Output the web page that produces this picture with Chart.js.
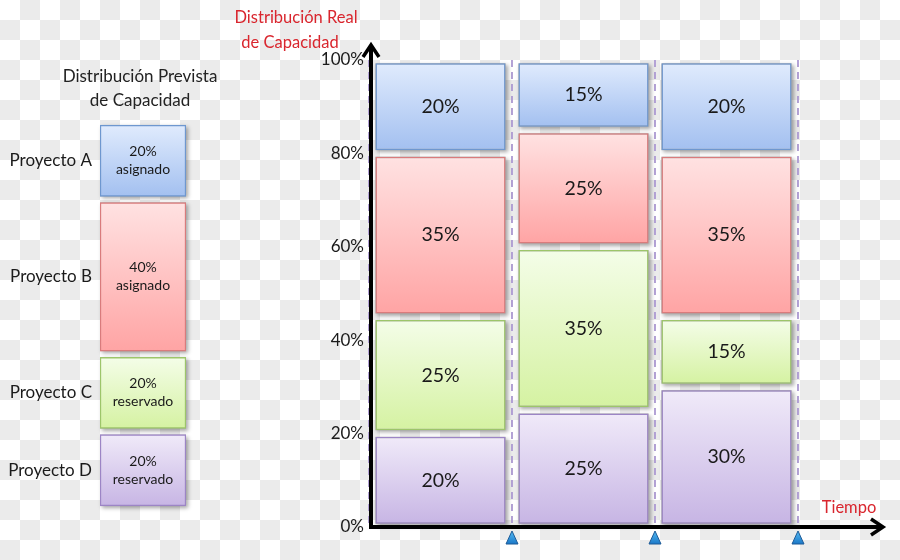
<!DOCTYPE html>
<html><head><meta charset="utf-8">
<script src="https://cdn.jsdelivr.net/npm/chart.js@4.4.1/dist/chart.umd.min.js"></script>
<style>
html,body{margin:0;padding:0;width:900px;height:560px;overflow:hidden;
background: repeating-conic-gradient(#ebebeb 0 25%, #ffffff 0 50%) 0 0/40px 40px;}
canvas{position:absolute;left:0;top:0;}
</style></head><body>
<canvas id="main" width="900" height="560"></canvas>
<canvas id="plan" width="240" height="560"></canvas>
<script>
// ---------- data ----------
const projects = ['Proyecto A', 'Proyecto B', 'Proyecto C', 'Proyecto D'];
const periods = ['Periodo 1', 'Periodo 2', 'Periodo 3'];
const realA = [20, 15, 20];
const realB = [35, 25, 35];
const realC = [25, 35, 15];
const realD = [20, 25, 30];
const plannedValues = [20, 40, 20, 20];            // A, B, C, D
const plannedNotes = ['asignado', 'asignado', 'reservado', 'reservado'];
const yTickValues = [0, 20, 40, 60, 80, 100];
const mainTitle = ['Distribución Real', 'de Capacidad'];
const planTitle = ['Distribución Prevista', 'de Capacidad'];
const xAxisTitle = 'Tiempo';

// ---------- styles ----------
const FONT = 'Lato';
const palette = {
  A: {top: '#e0ebfd', bottom: '#a3c0f0', border: '#6e97cf'},
  B: {top: '#ffe2e2', bottom: '#ffa4a4', border: '#d97b7c'},
  C: {top: '#f4fde8', bottom: '#d5f2a2', border: '#9dc56a'},
  D: {top: '#f0eaf9', bottom: '#c7b5e4', border: '#9c85c5'}
};

function ranges(seriesBottomToTop, g) {
  const n = seriesBottomToTop[0].length;
  const cum = new Array(n).fill(0);
  return seriesBottomToTop.map(s => s.map((v, i) => {
    const a = cum[i]; cum[i] += v; return [a + g, cum[i] - g];
  }));
}
function grad(c) {
  return (ctx) => {
    const chart = ctx.chart, y = chart.scales.y;
    if (!y || !Array.isArray(ctx.raw)) return c.bottom;
    const y1 = y.getPixelForValue(ctx.raw[1]), y0 = y.getPixelForValue(ctx.raw[0]);
    if (!isFinite(y1) || !isFinite(y0)) return c.bottom;
    const g = chart.ctx.createLinearGradient(0, y1, 0, y0);
    g.addColorStop(0, c.top); g.addColorStop(1, c.bottom);
    return g;
  };
}
function eachBar(chart, fn) {
  chart.data.datasets.forEach((ds, di) => {
    const meta = chart.getDatasetMeta(di);
    if (!meta.visible) return;
    meta.data.forEach((el, i) => {
      const p = el.getProps(['x', 'y', 'base', 'width'], true);
      fn(ds, i, p);
    });
  });
}
const shadowPlugin = {
  id: 'shadow',
  beforeDatasetsDraw(chart) {
    const ctx = chart.ctx;
    eachBar(chart, (ds, i, p) => {
      const top = Math.min(p.y, p.base), h = Math.abs(p.base - p.y);
      ctx.save();
      ctx.shadowColor = 'rgba(0,0,0,0.35)';
      ctx.shadowBlur = 4; ctx.shadowOffsetX = 2; ctx.shadowOffsetY = 2;
      ctx.fillStyle = '#aaaaaa';
      ctx.fillRect(p.x - p.width / 2, top, p.width, h);
      ctx.restore();
    });
  }
};

// ---------- main chart ----------
const G1 = 0.7;
const realRanges = ranges([realD, realC, realB, realA], G1);
const realVals = [realD, realC, realB, realA];
const keys = ['D', 'C', 'B', 'A'];
const mainDatasets = keys.map((k, j) => ({
  label: projects[3 - j],
  data: realRanges[j],
  values: realVals[j],
  backgroundColor: grad(palette[k]),
  borderColor: palette[k].border,
  borderWidth: 1.5,
  borderSkipped: false
}));

const mainDeco = {
  id: 'mainDeco',
  afterDatasetsDraw(chart) {
    const ctx = chart.ctx;
    ctx.save();
    ctx.fillStyle = '#1a1a1a';
    ctx.font = '19.5px ' + FONT;
    ctx.textAlign = 'center'; ctx.textBaseline = 'middle';
    eachBar(chart, (ds, i, p) => {
      ctx.fillText(ds.values[i] + '%', p.x, (p.y + p.base) / 2);
    });
    ctx.restore();
  },
  afterDraw(chart) {
    const ctx = chart.ctx, ca = chart.chartArea;
    const xs = chart.scales.x, ys = chart.scales.y;
    const ax = ca.left + 2, ay = ys.getPixelForValue(0);
    const xEnd = ca.right + 85;
    ctx.save();
    ctx.strokeStyle = '#000'; ctx.lineWidth = 4; ctx.lineCap = 'butt';
    ctx.beginPath(); ctx.moveTo(ax, ay + 2); ctx.lineTo(ax, 46); ctx.stroke();
    ctx.beginPath(); ctx.moveTo(ax - 2, ay); ctx.lineTo(xEnd - 2, ay); ctx.stroke();
    ctx.lineWidth = 3.5; ctx.lineJoin = 'miter';
    ctx.beginPath(); ctx.moveTo(ax - 8, 57); ctx.lineTo(ax, 45); ctx.lineTo(ax + 8, 57); ctx.stroke();
    ctx.beginPath(); ctx.moveTo(xEnd - 12, ay - 8); ctx.lineTo(xEnd, ay); ctx.lineTo(xEnd - 12, ay + 8); ctx.stroke();
    const w = (ca.right - ca.left) / periods.length;
    periods.forEach((p, i) => {
      const bx = xs.getPixelForValue(i) + w / 2;
      const g = ctx.createLinearGradient(0, ay + 5, 0, ay + 17);
      g.addColorStop(0, '#4fb6f0'); g.addColorStop(1, '#1b78c8');
      ctx.beginPath();
      ctx.moveTo(bx, ay + 4); ctx.lineTo(bx + 6, ay + 17); ctx.lineTo(bx - 6, ay + 17); ctx.closePath();
      ctx.fillStyle = g; ctx.fill();
      ctx.lineWidth = 1; ctx.strokeStyle = '#1d5a96'; ctx.stroke();
    });
    ctx.fillStyle = '#d9262e';
    ctx.font = '16.5px ' + FONT;
    ctx.textAlign = 'center'; ctx.textBaseline = 'middle';
    ctx.fillText(mainTitle[0], 296, 18);
    ctx.fillText(mainTitle[1], 290, 43);
    ctx.fillText(xAxisTitle, 849, 508);
    ctx.restore();
  }
};

new Chart(document.getElementById('main'), {
  type: 'bar',
  data: {labels: periods, datasets: mainDatasets},
  options: {
    responsive: false, animation: false,
    layout: {padding: {top: 60, bottom: 33, left: 0, right: 102}},
    plugins: {legend: {display: false}, tooltip: {enabled: false}, title: {display: false}},
    datasets: {bar: {grouped: false, barPercentage: 0.91, categoryPercentage: 1}},
    scales: {
      x: {
        offset: true,
        ticks: {display: false},
        grid: {display: true, offset: true, color: '#b4a3d6', lineWidth: 2, drawTicks: false},
        border: {display: false, dash: [7, 5]},
        afterFit(s) { s.height = 0; }
      },
      y: {
        min: 0, max: 100,
        afterBuildTicks(s) { s.ticks = yTickValues.map(v => ({value: v})); },
        ticks: {callback: v => v + '%', color: '#1a1a1a', font: {family: FONT, size: 17}, padding: 5},
        grid: {display: false, drawTicks: false},
        border: {display: false},
        afterFit(s) { s.width = 369; }
      }
    }
  },
  plugins: [shadowPlugin, mainDeco]
});

// ---------- planned (left) chart ----------
const G2 = 0.8;
const planBottomToTop = plannedValues.slice().reverse().map(v => [v]);
const planRanges = ranges(planBottomToTop, G2);
const planKeys = ['D', 'C', 'B', 'A'];
const planDatasets = planKeys.map((k, j) => ({
  label: projects[3 - j],
  data: planRanges[j],
  values: [plannedValues[3 - j]],
  notes: [plannedNotes[3 - j]],
  backgroundColor: grad(palette[k]),
  borderColor: palette[k].border,
  borderWidth: 1.5,
  borderSkipped: false
}));
const planCenters = planRanges.map(r => (r[0][0] + r[0][1]) / 2);

const planDeco = {
  id: 'planDeco',
  afterDatasetsDraw(chart) {
    const ctx = chart.ctx;
    ctx.save();
    ctx.fillStyle = '#1a1a1a';
    ctx.font = '14px ' + FONT;
    ctx.textAlign = 'center'; ctx.textBaseline = 'middle';
    eachBar(chart, (ds, i, p) => {
      const cy = (p.y + p.base) / 2;
      ctx.fillText(ds.values[i] + '%', p.x, cy - 9);
      ctx.fillText(ds.notes[i], p.x, cy + 9);
    });
    ctx.fillStyle = '#222';
    ctx.font = '17px ' + FONT;
    ctx.fillText(planTitle[0], 140, 77);
    ctx.fillText(planTitle[1], 140, 101);
    ctx.restore();
  }
};

new Chart(document.getElementById('plan'), {
  type: 'bar',
  data: {labels: ['Prevista'], datasets: planDatasets},
  options: {
    responsive: false, animation: false,
    layout: {padding: {top: 122, bottom: 51, left: 0, right: 54}},
    plugins: {legend: {display: false}, tooltip: {enabled: false}, title: {display: false}},
    datasets: {bar: {grouped: false, barPercentage: 1, categoryPercentage: 1}},
    scales: {
      x: {display: false},
      y: {
        min: 0, max: 100,
        afterBuildTicks(s) { s.ticks = planCenters.map(v => ({value: v})); },
        ticks: {
          autoSkip: false,
          callback: (v) => {
            const j = planCenters.findIndex(c => Math.abs(c - v) < 1e-6);
            return projects[3 - j];
          },
          color: '#1a1a1a', font: {family: FONT, size: 17}, padding: 8
        },
        grid: {display: false, drawTicks: false},
        border: {display: false},
        afterFit(s) { s.width = 100; }
      }
    }
  },
  plugins: [shadowPlugin, planDeco]
});
</script>
</body></html>
